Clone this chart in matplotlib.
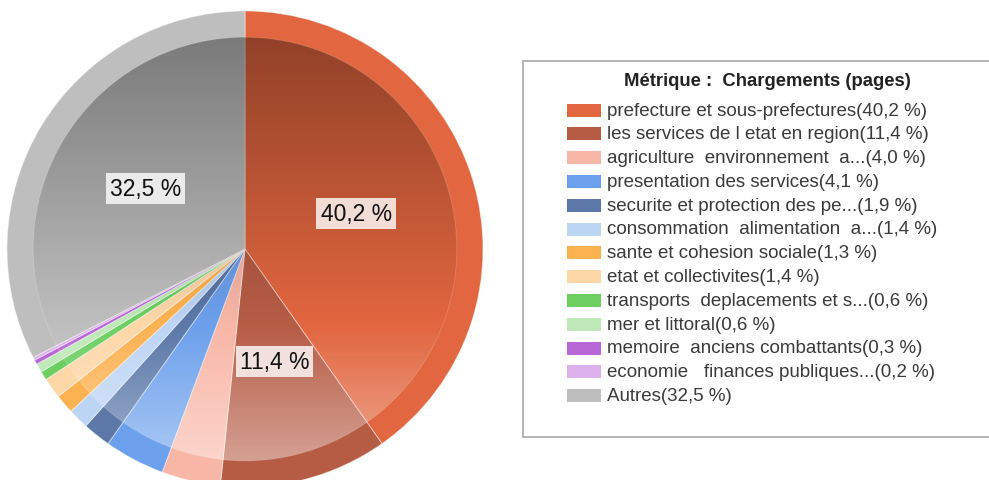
import numpy as np
import matplotlib.pyplot as plt
from matplotlib.patches import Circle, Rectangle

# data
categories = [
    'prefecture et sous-prefectures',
    'les services de l etat en region',
    'agriculture  environnement  a...',
    'presentation des services',
    'securite et protection des pe...',
    'consommation  alimentation  a...',
    'sante et cohesion sociale',
    'etat et collectivites',
    'transports  deplacements et s...',
    'mer et littoral',
    'memoire  anciens combattants',
    'economie   finances publiques...',
    'Autres',
]
parts = [40.2, 11.4, 4.0, 4.1, 1.9, 1.4, 1.3, 1.4, 0.6, 0.6, 0.3, 0.2, 32.5]
colors = ['#E2663F', '#B65C45', '#F8B6A6', '#6CA0EC', '#5B78A8', '#BCD5F5',
          '#FDB252', '#FDD7A8', '#6DCF62', '#BFE9B9', '#B868D6', '#DCB1EC',
          '#BEBEBE']

plt.rcParams['font.family'] = ['Liberation Sans', 'DejaVu Sans']

W, H = 989, 481
fig = plt.figure(figsize=(W / 100, H / 100), dpi=100)

# pie axes, centre (245, 250) px, radius 238 px
cx, cy, R = 245, 250, 238
ax = fig.add_axes([(cx - R) / W, (H - cy - R) / H, 2 * R / W, 2 * R / H])

def fmt(p):
    return ('%.1f %%' % p).replace('.', ',') if p > 10 else ''

wedges, texts, autotexts = ax.pie(
    parts, colors=colors, startangle=90, counterclock=False, radius=1,
    autopct=fmt, pctdistance=0.49,
    wedgeprops=dict(edgecolor=(1, 1, 1, 0.45), linewidth=0.7),
    textprops=dict(fontsize=16.5, color='#111111'))
ax.set_xlim(-1, 1)
ax.set_ylim(-1, 1)
ax.set_aspect('equal')
ax.axis('off')

# bevel: darker at the top, lighter at the bottom, inside an inner circle
r_in = 0.89
n = 300
t = np.linspace(0, 1, n)[:, None]
grad = np.zeros((n, 2, 4))
dark = np.clip(1 - t / 0.68, 0, 1) * 0.36
light = np.clip((t - 0.68) / 0.32, 0, 1) * 0.42
grad[..., :3] = np.where(light > 0, 1.0, 0.0)[..., None]
grad[..., 3] = np.maximum(dark, light)
img = ax.imshow(grad, extent=[-r_in, r_in, -r_in, r_in], origin='upper',
                aspect='auto', zorder=2, interpolation='bilinear')
clip = Circle((0, 0), r_in, transform=ax.transData)
img.set_clip_path(clip)
ax.add_patch(Circle((0, 0), r_in, fill=False, edgecolor=(1, 1, 1, 0.15),
                    linewidth=0.8, zorder=2))
ax.set_xlim(-1, 1)
ax.set_ylim(-1, 1)

for at in autotexts:
    at.set_zorder(5)
    if at.get_text():
        at.set_bbox(dict(facecolor='white', alpha=0.8, edgecolor='none',
                         pad=3))

# legend, drawn in pixel coordinates
lg = fig.add_axes([0, 0, 1, 1])
lg.set_xlim(0, W)
lg.set_ylim(H, 0)
lg.axis('off')
lg.add_patch(Rectangle((523, 62), 520, 376, facecolor='white',
                       edgecolor='#A8A8A8', linewidth=1.2))
lg.text(767, 82, 'Métrique :  Chargements (pages)', fontsize=13.3,
        fontweight='bold', color='#222222', ha='center', va='center')

y0, dy = 111, 23.8
for i, (name, p, c) in enumerate(zip(categories, parts, colors)):
    y = y0 + i * dy
    lg.add_patch(Rectangle((567, y - 6.5), 34, 13, facecolor=c,
                           edgecolor='none'))
    lg.text(607, y, '%s(%s %%)' % (name, ('%.1f' % p).replace('.', ',')),
            fontsize=13.5, color='#3a3a3a', ha='left', va='center')

fig.savefig('out.png', dpi=100)
